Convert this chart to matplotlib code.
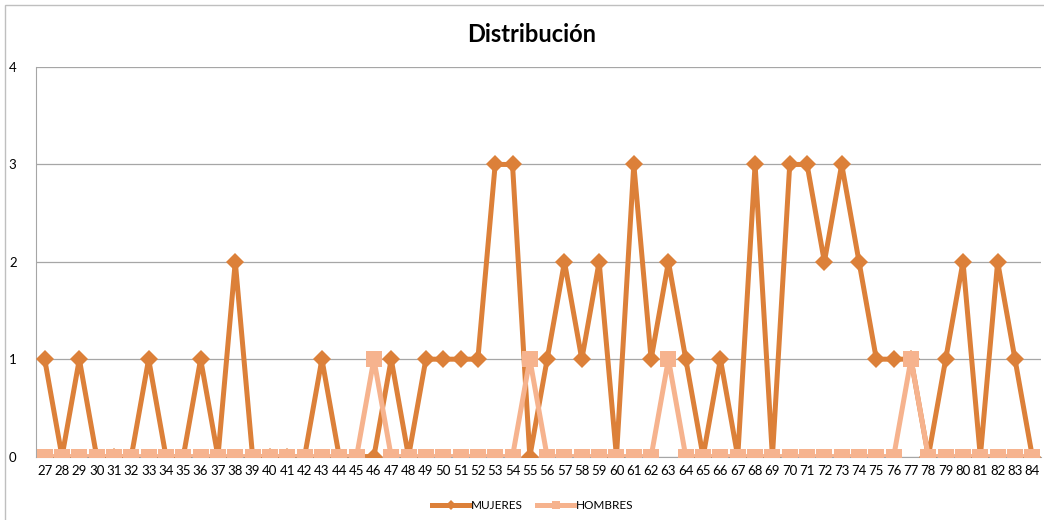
import numpy as np
import matplotlib.pyplot as plt
from matplotlib.patches import Rectangle

# Data
ages = list(range(27, 85))
mujeres = [1, 0, 1, 0, 0, 0, 1, 0, 0, 1, 0, 2, 0, 0, 0, 0, 1, 0, 0, 0,
           1, 0, 1, 1, 1, 1, 3, 3, 0, 1, 2, 1, 2, 0, 3, 1, 2, 1, 0, 1,
           0, 3, 0, 3, 3, 2, 3, 2, 1, 1, 1, 0, 1, 2, 0, 2, 1, 0]
hombres = [0] * len(ages)
for a in (46, 55, 63, 77):
    hombres[ages.index(a)] = 1

c_muj = "#DC8039"
c_hom = "#F6B38E"
grid_c = "#A6A6A6"

plt.rcParams['font.family'] = ['Lato', 'DejaVu Sans']

fig = plt.figure(figsize=(10.44, 5.2), dpi=100)
ax = fig.add_axes([0.0345, 0.122, 0.9626, 0.749])

# outer chart frame
fig.patches.append(Rectangle((5 / 1044, -0.05), 1.1, 1.05 - 5 / 520,
                             transform=fig.transFigure, fill=False,
                             edgecolor="#BFBFBF", lw=1.0))

x = np.arange(len(ages))
ax.plot(x, mujeres, color=c_muj, lw=3.6, marker="D", markersize=9.5,
        markeredgewidth=0, label="MUJERES", zorder=3)
ax.plot(x, hombres, color=c_hom, lw=3.6, marker="s", markersize=11,
        markeredgewidth=0, label="HOMBRES", zorder=4)

ax.set_xlim(-0.5, len(ages) - 0.5)
ax.set_ylim(0, 4)
ax.set_yticks([0, 1, 2, 3, 4])
ax.set_xticks(x)
ax.set_xticklabels([str(a) for a in ages])
ax.tick_params(length=0, labelsize=9.5)
ax.tick_params(axis="x", pad=6)
ax.tick_params(axis="y", pad=14)
ax.yaxis.grid(True, color=grid_c, lw=0.9)
ax.set_axisbelow(True)
for s in ("top", "right"):
    ax.spines[s].set_visible(False)
ax.spines["left"].set_color(grid_c)
ax.spines["bottom"].set_color(grid_c)

fig.text(0.509, 0.933, "Distribución", ha="center", va="center",
         fontsize=17, fontweight="bold")

fig.legend(loc="center", bbox_to_anchor=(0.51, 0.028), ncol=2, frameon=False,
           fontsize=8.5, handlelength=3.2, handletextpad=0.1, columnspacing=1.2,
           markerscale=0.5)

fig.savefig("out.png", dpi=100)
